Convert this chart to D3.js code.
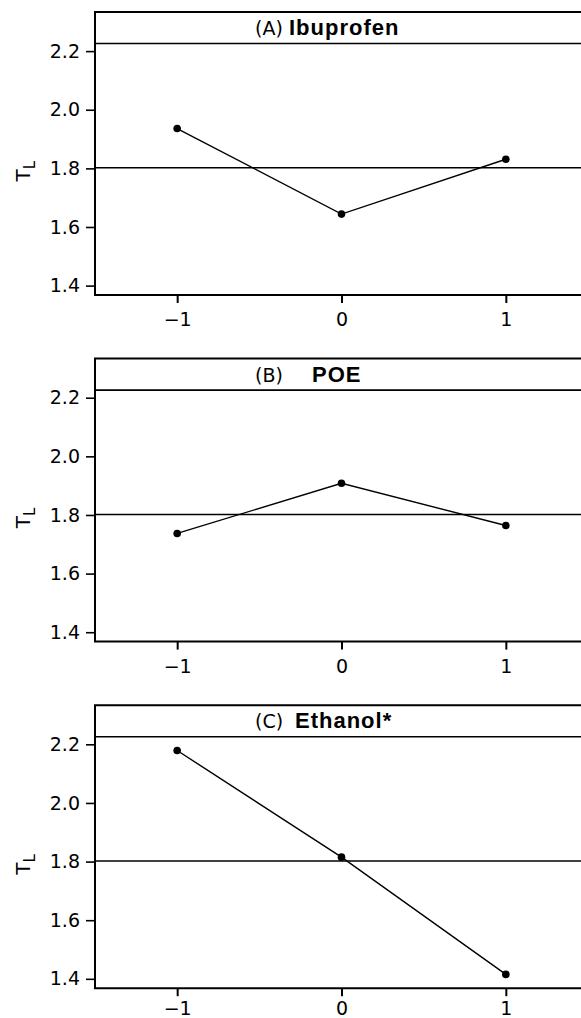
<!DOCTYPE html>
<html>
<head>
<meta charset="utf-8">
<script src="https://cdn.jsdelivr.net/npm/d3@7"></script>
<style>
  body { margin: 0; background: #fff; }
  svg { display: block; }
</style>
</head>
<body>
<div id="chart"></div>
<script>
// factor levels and mean T_L per level, one array per factor
const levels = [-1, 0, 1];
const panelTags = ["(A)", "(B)", "(C)"];
const panelNames = ["Ibuprofen", "POE", "Ethanol*"];
const ibuprofen = [1.936, 1.644, 1.831];
const poe = [1.737, 1.908, 1.764];
const ethanol = [2.179, 1.815, 1.415];
const grandMean = 1.802;
const yTicks = [1.4, 1.6, 1.8, 2.0, 2.2];

const series = [ibuprofen, poe, ethanol];

const width = 581, height = 1018;
const left = 95, right = 588;
const panelStep = 346.6, firstTop = 12;
const stripH = 31.5, dataH = 251.5;
const nameX = [289, 312, 295]; // where the bold name starts in each strip

const svg = d3.select("#chart")
  .append("svg")
  .attr("width", width)
  .attr("height", height);

const x = d3.scaleLinear().domain([-1.5, 1.5]).range([left, right]);

series.forEach((vals, i) => {
  const top = firstTop + i * panelStep;
  const stripBottom = top + stripH;
  const bottom = stripBottom + dataH;

  const y = d3.scaleLinear().domain([1.368, 2.226]).range([bottom, stripBottom]);
  const g = svg.append("g");

  // strip separator
  g.append("line")
    .attr("x1", left).attr("x2", right)
    .attr("y1", stripBottom).attr("y2", stripBottom)
    .attr("stroke", "#000").attr("stroke-width", 1.6);

  // strip title
  g.append("text")
    .attr("x", 255)
    .attr("y", top + 23)
    .attr("font-family", "DejaVu Sans")
    .attr("font-size", 19)
    .text(panelTags[i]);
  g.append("text")
    .attr("x", nameX[i])
    .attr("y", top + 23)
    .attr("font-family", "Liberation Sans, Arial, sans-serif")
    .attr("font-weight", "bold")
    .attr("font-size", 22)
    .attr("letter-spacing", 1)
    .text(panelNames[i]);

  // reference line at the overall mean
  g.append("line")
    .attr("x1", left).attr("x2", right)
    .attr("y1", y(grandMean)).attr("y2", y(grandMean))
    .attr("stroke", "#000").attr("stroke-width", 1.5);

  // main effect line
  const pts = levels.map((l, k) => [l, vals[k]]);
  g.append("path")
    .datum(pts)
    .attr("fill", "none")
    .attr("stroke", "#000")
    .attr("stroke-width", 1.4)
    .attr("d", d3.line().x(d => x(d[0])).y(d => y(d[1])));

  g.selectAll("circle")
    .data(pts)
    .enter()
    .append("circle")
    .attr("cx", d => x(d[0]))
    .attr("cy", d => y(d[1]))
    .attr("r", 3.8)
    .attr("fill", "#000");

  // frame: top, left, bottom (right side runs off the page)
  g.append("path")
    .attr("d", `M${right},${top}H${left}V${bottom}H${right}`)
    .attr("fill", "none")
    .attr("stroke", "#000")
    .attr("stroke-width", 2);

  // axes
  const ya = g.append("g")
    .attr("transform", `translate(${left},0)`)
    .call(d3.axisLeft(y).tickValues(yTicks).tickFormat(d3.format(".1f"))
      .tickSize(9).tickPadding(6));
  ya.select(".domain").remove();
  ya.selectAll("line").attr("stroke-width", 1.6);
  ya.selectAll("text")
    .attr("font-family", "DejaVu Sans")
    .attr("font-size", 19)
    .attr("fill", "#000");

  const xa = g.append("g")
    .attr("transform", `translate(0,${bottom})`)
    .call(d3.axisBottom(x).tickValues(levels).tickFormat(d3.format("d"))
      .tickSize(8).tickPadding(i === 2 ? 5 : 10));
  xa.select(".domain").remove();
  xa.selectAll("line").attr("stroke-width", 2);
  xa.selectAll("text")
    .attr("font-family", "DejaVu Sans")
    .attr("font-size", 19)
    .attr("fill", "#000");

  // y label T with subscript L
  const yl = g.append("text")
    .attr("transform", `translate(30,${(stripBottom + bottom) / 2 + 2}) rotate(-90)`)
    .attr("text-anchor", "middle")
    .attr("font-family", "DejaVu Sans")
    .attr("font-size", 20);
  yl.append("tspan").text("T");
  yl.append("tspan").attr("font-size", 15).attr("dy", 5).text("L");
});
</script>
</body>
</html>
